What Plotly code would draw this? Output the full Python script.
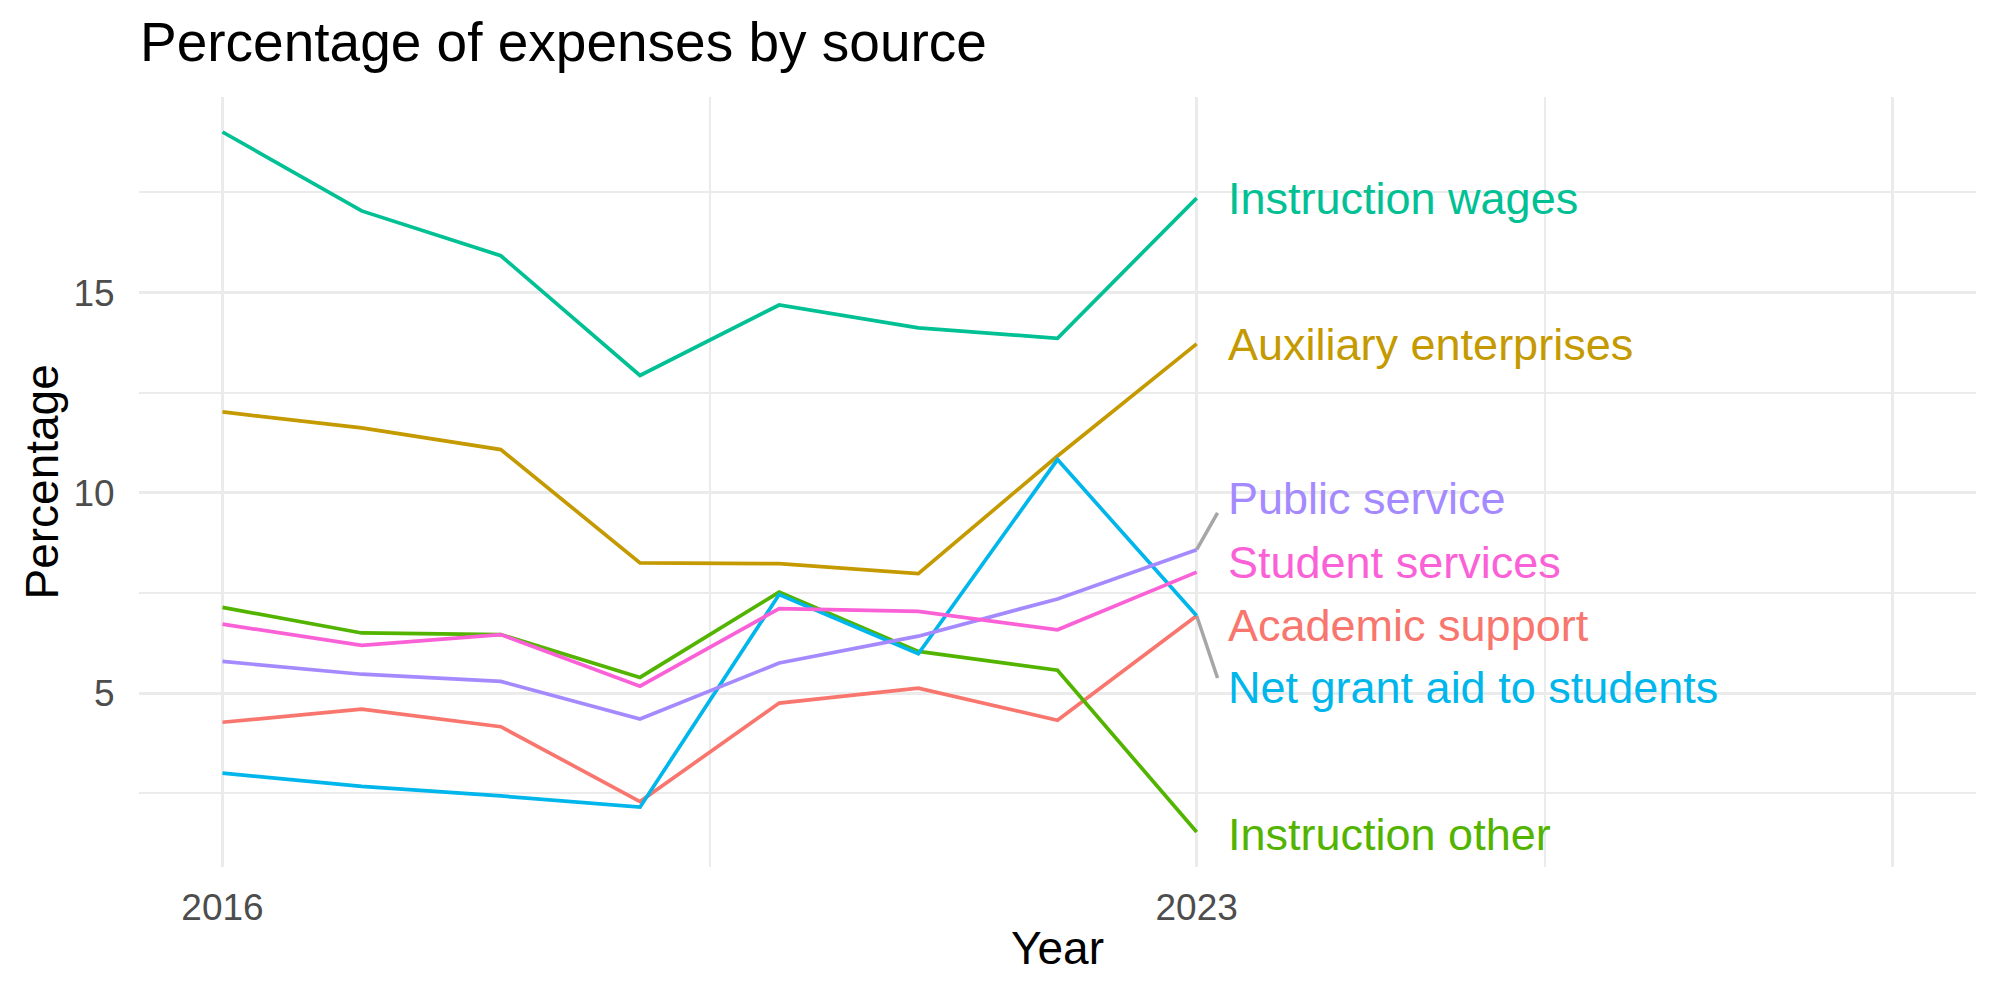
import plotly.graph_objects as go

years = [2016, 2017, 2018, 2019, 2020, 2021, 2022, 2023]

series_names = [
    "Academic support",
    "Auxiliary enterprises",
    "Instruction other",
    "Instruction wages",
    "Net grant aid to students",
    "Public service",
    "Student services",
]
academic_support = [4.27, 4.60, 4.16, 2.29, 4.75, 5.12, 4.32, 6.93]
auxiliary_enterprises = [12.02, 11.62, 11.08, 8.25, 8.23, 7.98, 10.92, 13.72]
instruction_other = [7.14, 6.50, 6.46, 5.39, 7.52, 6.04, 5.57, 1.53]
instruction_wages = [19.01, 17.04, 15.92, 12.93, 14.69, 14.12, 13.86, 17.36]
net_grant_aid = [3.00, 2.67, 2.43, 2.15, 7.46, 5.98, 10.83, 6.93]
public_service = [5.79, 5.47, 5.29, 4.35, 5.75, 6.42, 7.35, 8.58]
student_services = [6.72, 6.19, 6.46, 5.17, 7.11, 7.04, 6.58, 8.02]

colors = ["#F8766D", "#C49A00", "#53B400", "#00C094", "#00B6EB", "#A58AFF", "#FB61D7"]

# repelled label positions (y, data units) at the right end
label_y = [6.69, 13.70, 1.47, 17.34, 5.145, 9.855, 8.25]
label_x = 2023.21
# connector segments for labels that were pushed away (index -> segment end y)
segment_end = {5: 9.50, 4: 5.375}
segment_end_x = 2023.15

x_tickvals = [2016, 2023, 2028]
x_ticktext = ["2016", "2023", ""]
x_minor = [2019.5, 2025.5]
y_tickvals = [5, 10, 15]
y_minor = [2.5, 7.5, 12.5, 17.5]

values = [academic_support, auxiliary_enterprises, instruction_other,
          instruction_wages, net_grant_aid, public_service, student_services]

FONT = "Liberation Sans, Arial, Helvetica, sans-serif"

fig = go.Figure()

for i in sorted(segment_end):
    fig.add_trace(go.Scatter(
        x=[years[-1], segment_end_x], y=[values[i][-1], segment_end[i]],
        mode="lines", line=dict(color="#A6A6A6", width=3.5),
        showlegend=False, hoverinfo="skip"))

for name, vals, col in zip(series_names, values, colors):
    fig.add_trace(go.Scatter(
        x=years, y=vals, mode="lines", name=name,
        line=dict(color=col, width=3.7), showlegend=False))

for name, ly, col in zip(series_names, label_y, colors):
    fig.add_annotation(
        x=label_x, y=ly, xref="x", yref="y", text=name, showarrow=False,
        xanchor="left", yanchor="middle",
        font=dict(family=FONT, size=45, color=col))

fig.add_annotation(
    x=(41.5 - 139) / 1837, y=0.5, xref="paper", yref="paper",
    text="Percentage", showarrow=False, textangle=-90,
    xanchor="center", yanchor="middle",
    font=dict(family=FONT, size=46, color="#000000"))

fig.update_layout(
    width=2000, height=1000,
    paper_bgcolor="white", plot_bgcolor="white",
    margin=dict(l=139, r=24, t=97, b=133),
    font=dict(family=FONT, color="#000000"),
    title=dict(text="Percentage of expenses by source",
               x=0.07, xanchor="left", xref="container",
               y=0.958, yanchor="middle", yref="container",
               font=dict(family=FONT, size=55, color="#000000")),
    showlegend=False,
)

fig.update_xaxes(
    range=[2015.4, 2028.6],
    tickmode="array", tickvals=x_tickvals, ticktext=x_ticktext,
    ticks="outside", ticklen=8, tickcolor="rgba(0,0,0,0)",
    tickfont=dict(family=FONT, size=37, color="#4D4D4D"),
    showgrid=True, gridcolor="#EBEBEB", gridwidth=3.2,
    minor=dict(tickmode="array", tickvals=x_minor, showgrid=True,
               gridcolor="#EBEBEB", gridwidth=1.8, ticks=""),
    zeroline=False, showline=False,
    title=dict(text="Year", font=dict(family=FONT, size=46, color="#000000"),
               standoff=4),
)

fig.update_yaxes(
    range=[0.656, 19.884],
    tickmode="array", tickvals=y_tickvals,
    ticks="outside", ticklen=16, tickcolor="rgba(0,0,0,0)",
    tickfont=dict(family=FONT, size=37, color="#4D4D4D"),
    showgrid=True, gridcolor="#EBEBEB", gridwidth=3.2,
    minor=dict(tickmode="array", tickvals=y_minor, showgrid=True,
               gridcolor="#EBEBEB", gridwidth=1.8, ticks=""),
    zeroline=False, showline=False,
)

fig.write_html("out.html")
